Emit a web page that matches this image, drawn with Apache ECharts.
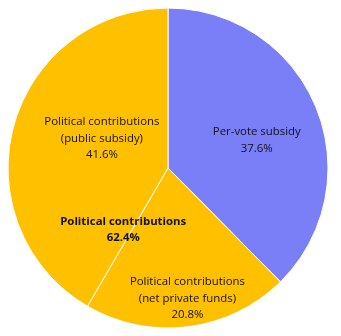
<!DOCTYPE html>
<html><head><meta charset="utf-8">
<script src="https://cdn.jsdelivr.net/npm/echarts@6/dist/echarts.min.js"></script>
<style>html,body{margin:0;padding:0;background:#fff}#c{width:341px;height:336px}</style>
</head><body><div id="c"></div>
<script>
const categories = ['Per-vote subsidy', 'Political contributions\n(net private funds)', 'Political contributions\n(public subsidy)'];
const values = [37.6, 20.8, 41.6];
const groupCategories = ['Per-vote subsidy', 'Political contributions'];
const groupValues = [37.6, 62.4];
const colors = ['#7b7ff7', '#ffc000', '#ffc000'];
const labelShift = [[12, 4], [9, 48], [14, -8]];

const chart = echarts.init(document.getElementById('c'), null, {renderer: 'canvas'});
const font = {fontFamily: 'Open Sans', fontSize: 11.4, color: '#111', lineHeight: 16.5};
chart.setOption({
  animation: false,
  series: [
    {
      type: 'pie', center: [168, 168], radius: [0, 160], startAngle: 90, clockwise: true,
      data: categories.map((n, i) => ({name: n, value: values[i], itemStyle: {color: colors[i]}})),
      itemStyle: {borderColor: '#fff', borderWidth: 1},
      label: Object.assign({show: true, position: 'inside', align: 'center',
        formatter: p => p.name + '\n' + p.value.toFixed(1) + '%'}, font),
      labelLayout: p => ({dx: labelShift[p.dataIndex][0], dy: labelShift[p.dataIndex][1]}),
      emphasis: {disabled: true}
    },
    {
      type: 'pie', center: [168, 168], radius: [0, 160], startAngle: 90, clockwise: true, silent: true,
      data: groupCategories.map((n, i) => ({name: n, value: groupValues[i],
        label: {show: i === 1}})),
      itemStyle: {color: 'rgba(0,0,0,0)'},
      label: Object.assign({position: 'inside', align: 'center',
        formatter: p => p.name + '\n' + p.value.toFixed(1) + '%'}, font, {fontWeight: 'bold'}),
      labelLayout: p => ({dx: 32, dy: 30}),
      emphasis: {disabled: true}
    }
  ]
});
</script></body></html>
